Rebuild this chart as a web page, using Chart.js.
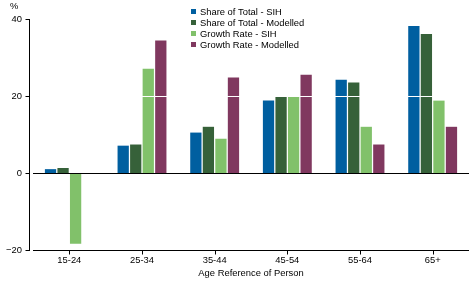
<!DOCTYPE html>
<html>
<head>
<meta charset="utf-8">
<script src="https://cdn.jsdelivr.net/npm/chart.js@4/dist/chart.umd.min.js"></script>
<style>
html,body{margin:0;padding:0;background:#fff;}
#wrap{width:472px;height:283px;position:relative;}
</style>
</head>
<body>
<div id="wrap"><canvas id="c" width="472" height="283"></canvas></div>
<script>
const categories = ['15-24', '25-34', '35-44', '45-54', '55-64', '65+'];
const shareSIH = [1.0, 7.1, 10.5, 18.8, 24.2, 38.2];
const shareModelled = [1.3, 7.4, 12.0, 19.8, 23.5, 36.1];
const growthSIH = [-18.4, 27.1, 8.9, 19.8, 12.0, 18.8];
const growthModelled = [null, 34.4, 24.8, 25.5, 7.4, 12.0];
const seriesLabels = ['Share of Total - SIH', 'Share of Total - Modelled', 'Growth Rate - SIH', 'Growth Rate - Modelled'];
const yTicks = [-20, 0, 20, 40];

const colors = ['#005FA0', '#366139', '#81C16A', '#80385F'];
const FONT = 'Liberation Sans Narrow, Arial Narrow, sans-serif';
const FS = 9.4;

const axesPlugin = {
  id: 'axesPlugin',
  afterDatasetsDraw(chart) {
    const ctx = chart.ctx;
    const ca = chart.chartArea;
    const y = chart.scales.y, x = chart.scales.x;
    ctx.save();
    ctx.strokeStyle = '#ffffff';
    ctx.lineWidth = 1;
    yTicks.forEach(v => {
      if (v <= 0) return;
      const py = Math.round(y.getPixelForValue(v)) + 0.5;
      ctx.beginPath(); ctx.moveTo(ca.left, py); ctx.lineTo(ca.right, py); ctx.stroke();
    });
    ctx.strokeStyle = '#000000';
    const zy = Math.round(y.getPixelForValue(0)) + 0.5;
    ctx.beginPath(); ctx.moveTo(ca.left, zy); ctx.lineTo(ca.right, zy); ctx.stroke();
    const ax = ca.left - 3.5;
    const topY = Math.round(y.getPixelForValue(yTicks[yTicks.length-1]));
    const botY = Math.round(y.getPixelForValue(yTicks[0]));
    ctx.beginPath(); ctx.moveTo(ax, topY); ctx.lineTo(ax, botY + 1); ctx.stroke();
    yTicks.forEach(v => {
      const py = Math.round(y.getPixelForValue(v)) + 0.5;
      ctx.beginPath(); ctx.moveTo(ax - 4, py); ctx.lineTo(ax, py); ctx.stroke();
    });
    const by = botY + 0.5;
    ctx.beginPath(); ctx.moveTo(ca.left, by); ctx.lineTo(ca.right, by); ctx.stroke();
    categories.forEach((c, i) => {
      const px = Math.round(x.getPixelForValue(i)) + 0.5;
      ctx.beginPath(); ctx.moveTo(px, by); ctx.lineTo(px, by + 4); ctx.stroke();
    });
    ctx.fillStyle = '#000';
    ctx.font = FS + 'px ' + FONT;
    ctx.textAlign = 'left';
    ctx.textBaseline = 'middle';
    ctx.fillText('%', 10, 6);
    const lx = 191, ly = 12, step = 11;
    chart.data.datasets.forEach((ds, i) => {
      ctx.fillStyle = ds.backgroundColor;
      ctx.fillRect(lx, ly + i * step - 3, 5, 5);
      ctx.fillStyle = '#000';
      ctx.fillText(ds.label, lx + 9, ly + i * step);
    });
    ctx.restore();
  }
};

new Chart(document.getElementById('c'), {
  type: 'bar',
  data: {
    labels: categories,
    datasets: [
      { label: seriesLabels[0], data: shareSIH, backgroundColor: colors[0] },
      { label: seriesLabels[1], data: shareModelled, backgroundColor: colors[1] },
      { label: seriesLabels[2], data: growthSIH, backgroundColor: colors[2] },
      { label: seriesLabels[3], data: growthModelled, backgroundColor: colors[3] }
    ]
  },
  options: {
    responsive: false,
    animation: false,
    devicePixelRatio: 1,
    layout: { padding: { top: 19, right: 3, left: 0, bottom: 0 } },
    datasets: { bar: { categoryPercentage: 0.69, barPercentage: 0.9 } },
    plugins: {
      legend: { display: false },
      tooltip: { enabled: false },
      title: { display: false }
    },
    scales: {
      x: {
        afterFit(scale) { scale.height = 33; },
        grid: { display: false, drawTicks: false },
        border: { display: false },
        ticks: { color: '#000', font: { family: FONT, size: FS }, padding: 5, maxRotation: 0 },
        title: { display: true, text: 'Age Reference of Person', color: '#000', font: { family: FONT, size: FS }, padding: { top: 1, bottom: 4 } }
      },
      y: {
        min: -20, max: 40,
        afterFit(scale) { scale.width = 33; },
        afterBuildTicks(scale) { scale.ticks = yTicks.map(v => ({ value: v })); },
        grid: { display: false, drawTicks: false },
        border: { display: false },
        ticks: {
          color: '#000', font: { family: FONT, size: FS }, padding: 11,
          callback: v => String(v).replace('-', '\u2212')
        }
      }
    }
  },
  plugins: [axesPlugin]
});
</script>
</body>
</html>
